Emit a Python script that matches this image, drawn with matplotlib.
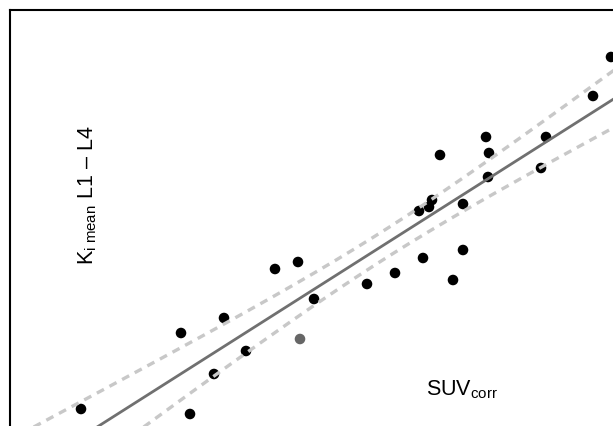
"""
Ki mean (L1-L4) against SUVcorr, with regression line and 95% confidence band.
"""

import numpy as np
import matplotlib.pyplot as plt

plt.rcParams['font.family'] = ['Liberation Sans', 'DejaVu Sans']
plt.rcParams['mathtext.fontset'] = 'custom'
plt.rcParams['mathtext.rm'] = 'Liberation Sans'
plt.rcParams['mathtext.it'] = 'Liberation Sans'

# SUVcorr
suv = [0.71, 1.80, 1.71, 2.14, 2.04, 2.36, 2.65, 2.88, 2.90, 3.04, 3.57, 3.85, 4.13, 4.43,
       4.53, 4.09, 4.19, 4.22, 4.30, 4.53, 4.76, 4.79, 4.78, 5.31, 5.36, 5.83, 6.01]

# Ki mean L1 - L4
ki = [0.27, 0.22, 1.03, 1.18, 0.62, 0.85, 1.67, 1.74, 0.97, 1.37, 1.52, 1.63, 1.78, 1.56,
      1.86, 2.25, 2.29, 2.36, 2.81, 2.32, 2.99, 2.83, 2.59, 2.68, 2.99, 3.40, 3.79]

# one patient drawn in grey
dot_colors = ['black'] * len(suv)
dot_colors[8] = '#666666'

x = np.array(suv)
y = np.array(ki)
n = len(x)

# least squares fit and 95% confidence band
slope, intercept = np.polyfit(x, y, 1)
resid = y - (slope * x + intercept)
s = np.sqrt(np.sum(resid ** 2) / (n - 2))
sxx = np.sum((x - x.mean()) ** 2)
t = 2.06

xs = np.linspace(-0.5, 6.5, 200)
fit = slope * xs + intercept
half = t * s * np.sqrt(1 / n + (xs - x.mean()) ** 2 / sxx)

fig = plt.figure(figsize=(6.13, 4.26), dpi=100)
ax = fig.add_axes([10 / 613, -10 / 426, 1.0, 1.0])

ax.scatter(x, y, s=58, c=dot_colors, edgecolors='none', zorder=2)
ax.plot(xs, fit + half, color='#c8c8c8', lw=2.4, ls=(0, (2.4, 1.9)), zorder=3)
ax.plot(xs, fit - half, color='#c8c8c8', lw=2.4, ls=(0, (2.4, 1.9)), zorder=3)
ax.plot(xs, fit, color='#707070', lw=2.0, zorder=3)

ax.set_xlim(0, 6.13)
ax.set_ylim(0, 4.26)
ax.set_xticks([])
ax.set_yticks([])
for sp in ax.spines.values():
    sp.set_linewidth(1.5)

fig.text(93 / 613, 1 - 265 / 426, r'K$_{\mathrm{i\ mean}}$ L1 – L4', fontsize=15.5,
         rotation=90, rotation_mode='anchor', ha='left', va='baseline')
fig.text(426 / 613, 1 - 395 / 426, r'SUV$_{\mathrm{corr}}$', fontsize=15.5,
         ha='left', va='baseline')

fig.savefig('out.png', dpi=100)
